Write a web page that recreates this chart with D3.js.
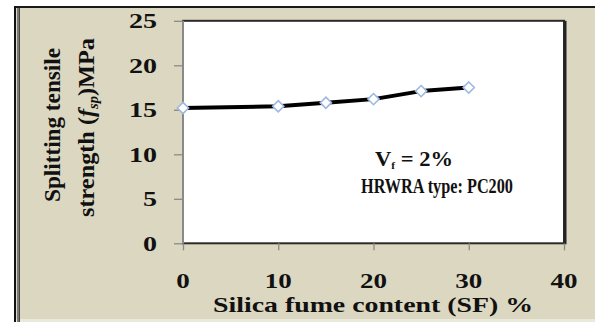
<!DOCTYPE html>
<html>
<head>
<meta charset="utf-8">
<script src="https://cdn.jsdelivr.net/npm/d3@7"></script>
<style>
  html, body { margin: 0; padding: 0; background: #fff; }
  svg { display: block; }
  text { font-family: "Liberation Serif", "Times New Roman", serif; font-weight: bold; fill: #111; }
</style>
</head>
<body>
<svg id="chart" width="595" height="322"></svg>
<script>
// Splitting tensile strength vs silica fume content
const sfContent = [0, 10, 15, 20, 25, 30];
const strength = [15.2, 15.4, 15.8, 16.2, 17.1, 17.5];
const xTicks = [0, 10, 20, 30, 40];
const yTicks = [0, 5, 10, 15, 20, 25];

const svg = d3.select("#chart");
const W = 595, H = 322;

// outer frame
svg.append("rect").attr("x", 14).attr("y", 6).attr("width", W - 14).attr("height", 314)
  .attr("fill", "#dcd7c1");
svg.append("rect").attr("x", 14).attr("y", 319).attr("width", W - 14).attr("height", 3)
  .attr("fill", "#ebe8dc");
svg.append("line").attr("x1", 14).attr("x2", W).attr("y1", 7).attr("y2", 7)
  .attr("stroke", "#1a1a1a").attr("stroke-width", 2);
svg.append("line").attr("x1", 15).attr("x2", 15).attr("y1", 6).attr("y2", H)
  .attr("stroke", "#111").attr("stroke-width", 2);
svg.append("line").attr("x1", 18).attr("x2", 18).attr("y1", 8).attr("y2", H)
  .attr("stroke", "#7a7a7a").attr("stroke-width", 2);
svg.append("line").attr("x1", 19.5).attr("x2", 19.5).attr("y1", 8).attr("y2", H)
  .attr("stroke", "#444").attr("stroke-width", 1);

const x = d3.scaleLinear().domain([0, 40]).range([183, 564]);
const y = d3.scaleLinear().domain([0, 25]).range([243.3, 20.8]);

// plot area
svg.append("rect")
  .attr("x", x(0)).attr("y", y(25))
  .attr("width", x(40) - x(0)).attr("height", y(0) - y(25))
  .attr("fill", "#fff").attr("stroke", "#2a2a2a").attr("stroke-width", 2);
svg.append("line").attr("x1", x(40) + 1.5).attr("x2", x(40) + 1.5)
  .attr("y1", y(25)).attr("y2", y(0) + 1).attr("stroke", "#222").attr("stroke-width", 2);

// axes
const yAxis = svg.append("g").attr("transform", `translate(${x(0)},0)`)
  .call(d3.axisLeft(y).tickValues(yTicks).tickSize(9).tickFormat(""));
const xAxis = svg.append("g").attr("transform", `translate(0,${y(0)})`)
  .call(d3.axisBottom(x).tickValues(xTicks).tickSize(7).tickFormat(""));
[yAxis, xAxis].forEach(g => {
  g.selectAll("line").attr("stroke", "#8a8a8a").attr("stroke-width", 1.3);
  g.select(".domain").remove();
});
svg.append("line").attr("x1", x(0)).attr("x2", x(0)).attr("y1", y(25)).attr("y2", y(0))
  .attr("stroke", "#8a8a8a").attr("stroke-width", 2);

// tick labels
svg.append("g").selectAll("text").data(yTicks).join("text")
  .attr("x", 157).attr("y", d => y(d) + 7.5)
  .attr("text-anchor", "end").attr("font-size", 21)
  .attr("textLength", d => String(d).length * 14)
  .attr("lengthAdjust", "spacingAndGlyphs")
  .text(d => d);
svg.append("g").selectAll("text").data(xTicks).join("text")
  .attr("x", d => x(d)).attr("y", 288.3)
  .attr("text-anchor", "middle").attr("font-size", 21)
  .attr("textLength", d => String(d).length * 13.5)
  .attr("lengthAdjust", "spacingAndGlyphs")
  .text(d => d);

// axis titles
svg.append("text").attr("x", 373).attr("y", 311.5).attr("text-anchor", "middle")
  .attr("font-size", 21).attr("textLength", 320).attr("lengthAdjust", "spacingAndGlyphs")
  .text("Silica fume content (SF) %");

svg.append("text")
  .attr("transform", "translate(59.5,125) scale(1.15,1) rotate(-90)")
  .attr("text-anchor", "middle").attr("font-size", 20)
  .attr("textLength", 154).attr("lengthAdjust", "spacingAndGlyphs")
  .text("Splitting tensile");
const t2 = svg.append("text")
  .attr("transform", "translate(93.5,127.5) scale(1.15,1) rotate(-90)")
  .attr("text-anchor", "middle").attr("font-size", 20)
  .attr("textLength", 179).attr("lengthAdjust", "spacingAndGlyphs");
t2.append("tspan").text("strength (");
t2.append("tspan").attr("font-style", "italic").text("f");
t2.append("tspan").attr("font-size", 12).attr("dy", 4).attr("font-style", "italic").text("sp");
t2.append("tspan").attr("dy", -4).text(")MPa");

// data line and markers
const pts = sfContent.map((d, i) => [d, strength[i]]);
svg.append("path").datum(pts)
  .attr("fill", "none").attr("stroke", "#000").attr("stroke-width", 4)
  .attr("stroke-linejoin", "round")
  .attr("d", d3.line().x(d => x(d[0])).y(d => y(d[1])));
svg.append("g").selectAll("path").data(pts).join("path")
  .attr("transform", d => `translate(${x(d[0])},${y(d[1])})`)
  .attr("d", d3.symbol(d3.symbolDiamond2, 80))
  .attr("fill", "#fff").attr("stroke", "#9db8e2").attr("stroke-width", 1.6);

// annotation
const a1 = svg.append("text").attr("x", 375).attr("y", 166).attr("font-size", 20)
  .attr("textLength", 78).attr("lengthAdjust", "spacingAndGlyphs");
a1.append("tspan").text("V");
a1.append("tspan").attr("font-size", 10).attr("dy", 3).text("f");
a1.append("tspan").attr("dy", -3).text(" = 2%");
svg.append("text").attr("x", 361).attr("y", 193).attr("font-size", 21)
  .attr("textLength", 152).attr("lengthAdjust", "spacingAndGlyphs")
  .text("HRWRA type: PC200");
</script>
</body>
</html>
